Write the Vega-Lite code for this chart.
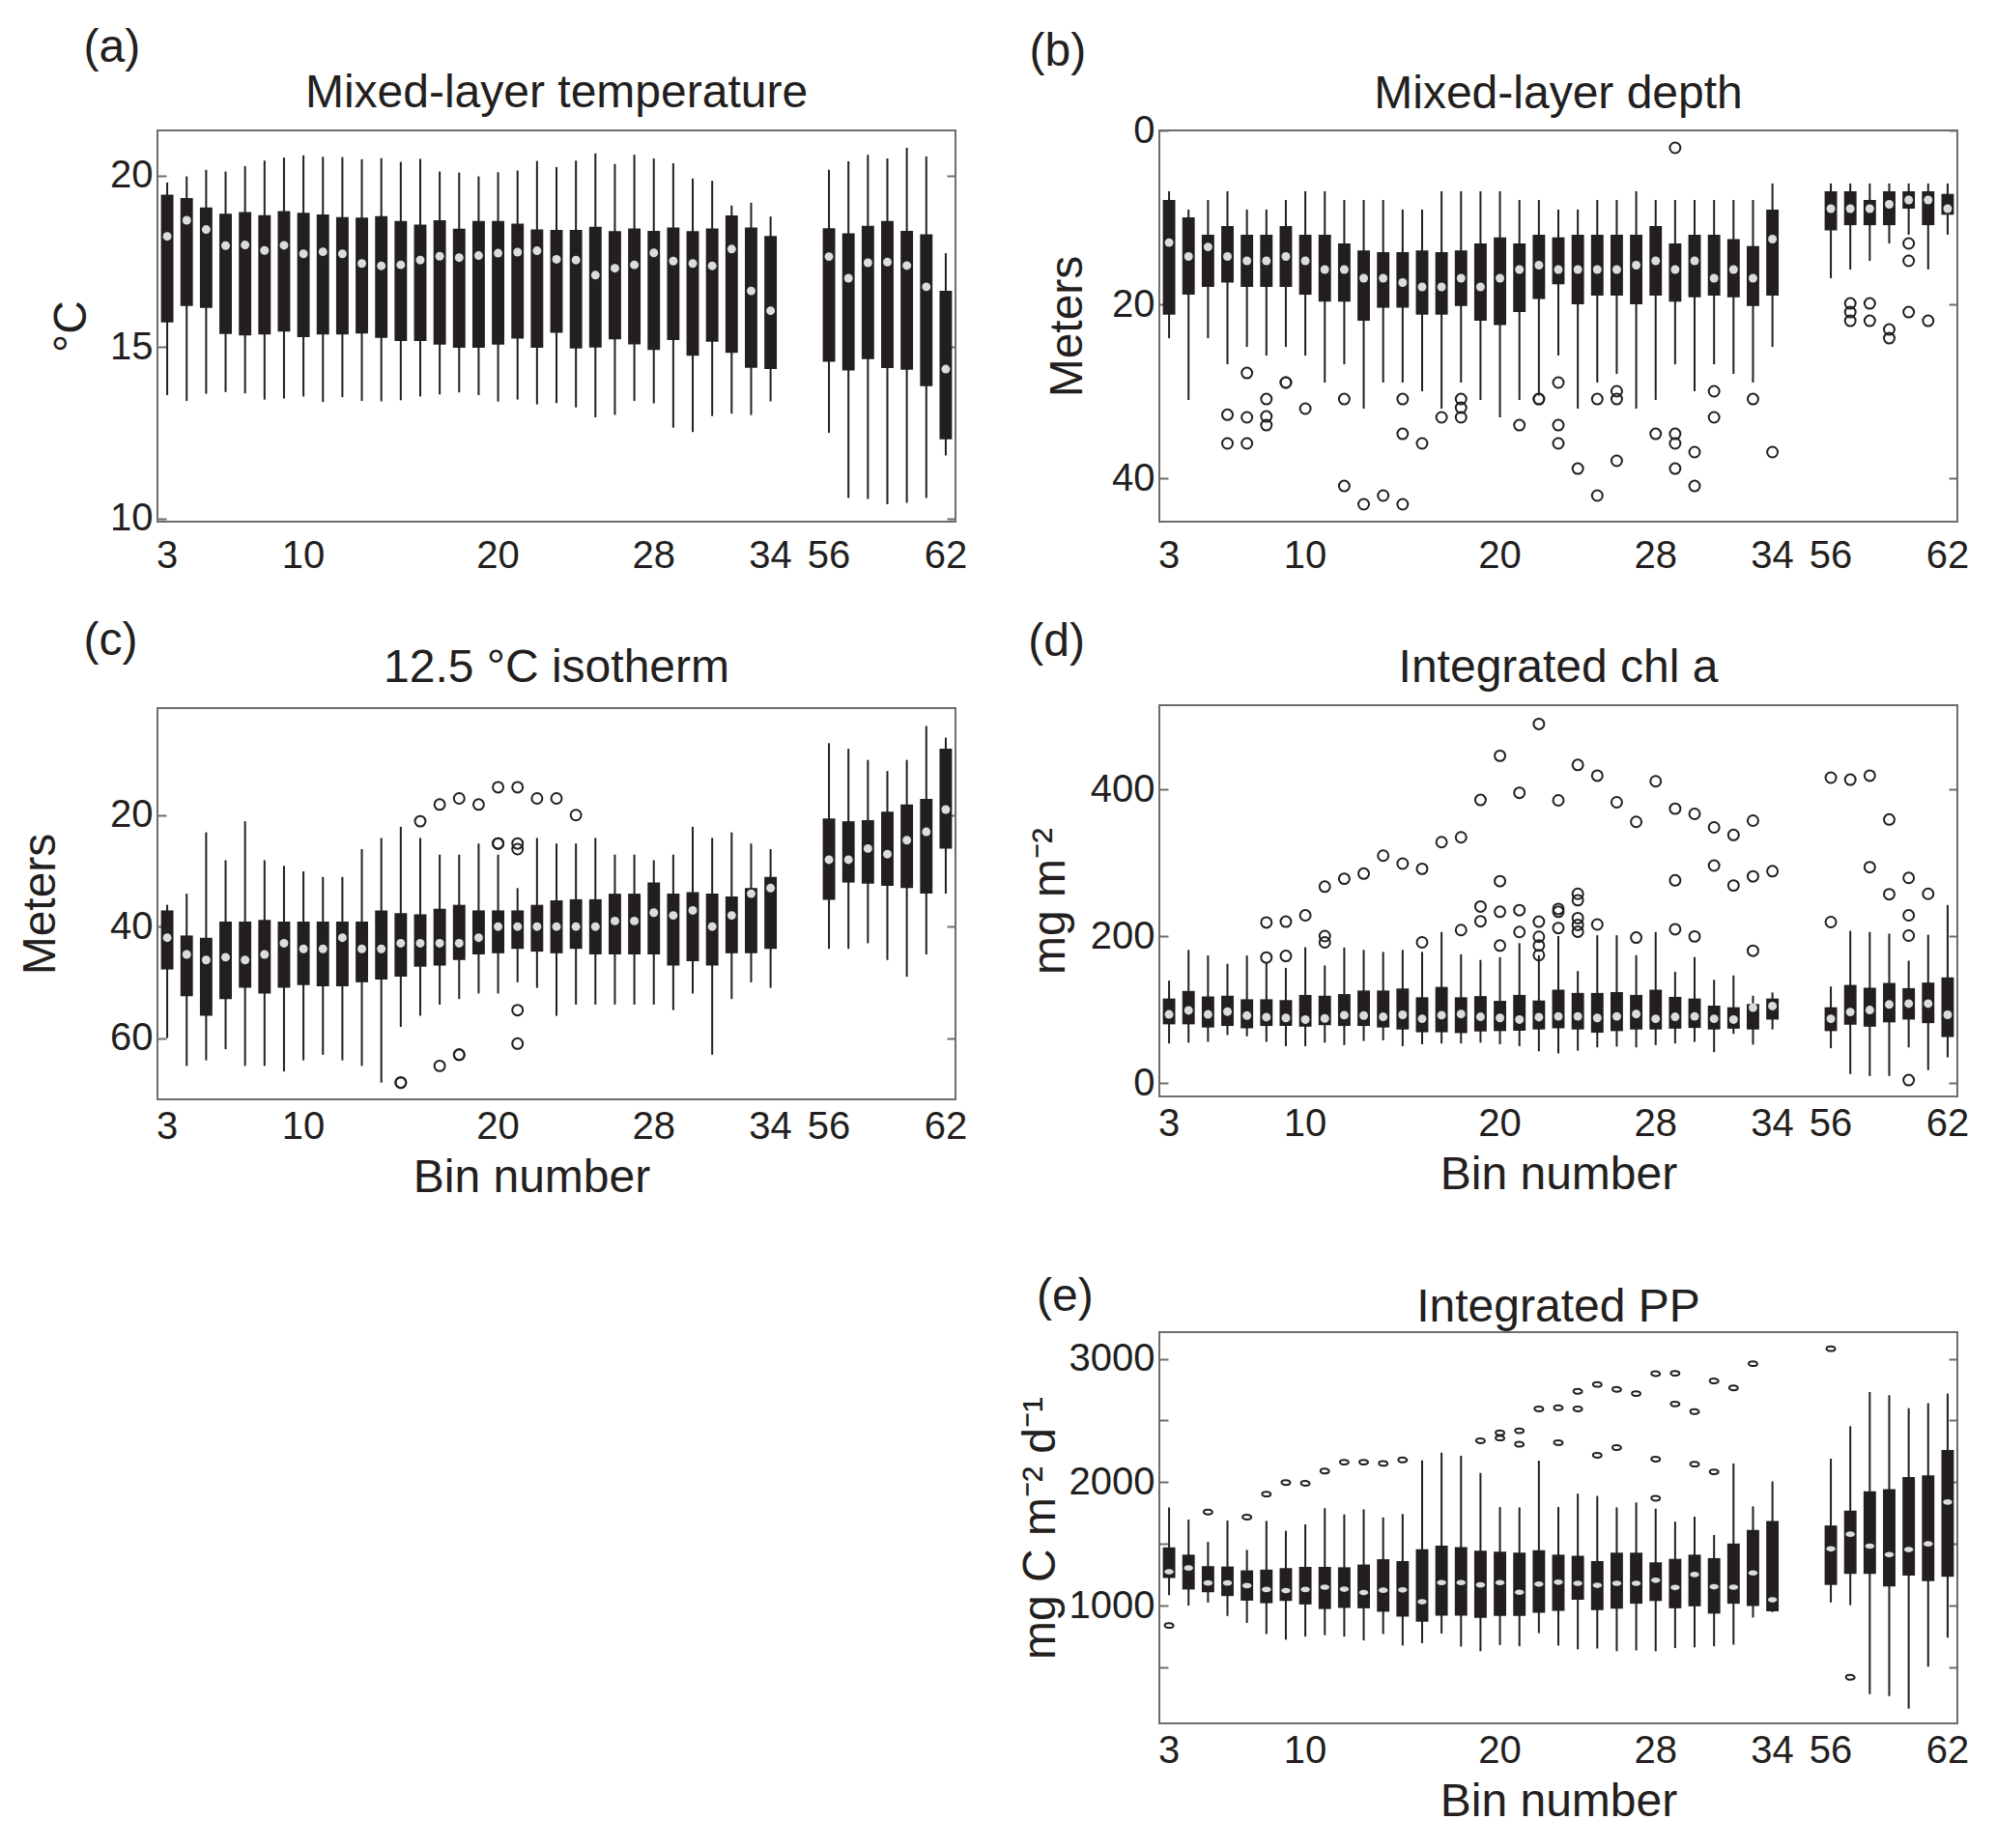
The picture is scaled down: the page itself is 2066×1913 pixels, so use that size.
{
  "$schema": "https://vega.github.io/schema/vega-lite/v6.json",
  "background": "white",
  "padding": {"left": 17, "top": 26, "right": 5, "bottom": 5},
  "config": {
    "font": "Liberation Sans",
    "view": {"stroke": "#6d6d6d", "strokeWidth": 2},
    "axis": {"labelFont": "Liberation Sans", "titleFont": "Liberation Sans", "labelFontSize": 40, "titleFontSize": 48, "titleFontWeight": "normal", "labelColor": "#231f20", "titleColor": "#231f20", "domain": false, "grid": false, "tickColor": "#6d6d6d", "tickWidth": 2},
    "axisX": {"ticks": false, "labelPadding": 15, "labelAngle": 0, "titlePadding": 9, "labelFlush": false, "labelOverlap": false},
    "axisY": {"tickSize": -9, "labelPadding": 14, "labelFlush": false, "labelOverlap": false},
    "title": {"font": "Liberation Sans", "fontSize": 48, "fontWeight": "normal", "color": "#231f20"}
  },
  "datasets": {
    "a_box": [
      {"bin":3,"lo":13.60,"q1":15.72,"med":18.23,"q3":19.45,"hi":19.80},
      {"bin":4,"lo":13.43,"q1":16.20,"med":18.70,"q3":19.35,"hi":19.98},
      {"bin":5,"lo":13.64,"q1":16.14,"med":18.43,"q3":19.07,"hi":20.17},
      {"bin":6,"lo":13.69,"q1":15.38,"med":17.96,"q3":18.89,"hi":20.12},
      {"bin":7,"lo":13.65,"q1":15.34,"med":17.98,"q3":18.94,"hi":20.28},
      {"bin":8,"lo":13.47,"q1":15.37,"med":17.82,"q3":18.85,"hi":20.44},
      {"bin":9,"lo":13.50,"q1":15.45,"med":17.97,"q3":18.97,"hi":20.53},
      {"bin":10,"lo":13.56,"q1":15.29,"med":17.72,"q3":18.92,"hi":20.59},
      {"bin":11,"lo":13.40,"q1":15.37,"med":17.78,"q3":18.87,"hi":20.55},
      {"bin":12,"lo":13.54,"q1":15.37,"med":17.72,"q3":18.79,"hi":20.54},
      {"bin":13,"lo":13.43,"q1":15.40,"med":17.44,"q3":18.78,"hi":20.48},
      {"bin":14,"lo":13.42,"q1":15.27,"med":17.37,"q3":18.82,"hi":20.51},
      {"bin":15,"lo":13.45,"q1":15.18,"med":17.40,"q3":18.68,"hi":20.40},
      {"bin":16,"lo":13.56,"q1":15.18,"med":17.54,"q3":18.57,"hi":20.49},
      {"bin":17,"lo":13.62,"q1":15.07,"med":17.65,"q3":18.70,"hi":20.12},
      {"bin":18,"lo":13.68,"q1":14.98,"med":17.61,"q3":18.45,"hi":20.09},
      {"bin":19,"lo":13.60,"q1":14.98,"med":17.67,"q3":18.68,"hi":19.98},
      {"bin":20,"lo":13.41,"q1":15.07,"med":17.74,"q3":18.68,"hi":20.10},
      {"bin":21,"lo":13.47,"q1":15.25,"med":17.77,"q3":18.60,"hi":20.15},
      {"bin":22,"lo":13.33,"q1":14.98,"med":17.81,"q3":18.43,"hi":20.43},
      {"bin":23,"lo":13.37,"q1":15.42,"med":17.56,"q3":18.42,"hi":20.25},
      {"bin":24,"lo":13.24,"q1":14.96,"med":17.54,"q3":18.42,"hi":20.44},
      {"bin":25,"lo":12.95,"q1":14.99,"med":17.10,"q3":18.51,"hi":20.65},
      {"bin":26,"lo":13.02,"q1":15.23,"med":17.30,"q3":18.38,"hi":20.34},
      {"bin":27,"lo":13.43,"q1":15.08,"med":17.40,"q3":18.46,"hi":20.61},
      {"bin":28,"lo":13.36,"q1":14.92,"med":17.75,"q3":18.39,"hi":20.50},
      {"bin":29,"lo":12.65,"q1":15.21,"med":17.51,"q3":18.49,"hi":20.36},
      {"bin":30,"lo":12.52,"q1":14.75,"med":17.44,"q3":18.38,"hi":19.92},
      {"bin":31,"lo":12.99,"q1":15.16,"med":17.37,"q3":18.46,"hi":19.85},
      {"bin":32,"lo":13.06,"q1":14.83,"med":17.86,"q3":18.84,"hi":19.13},
      {"bin":33,"lo":13.02,"q1":14.40,"med":16.64,"q3":18.49,"hi":19.21},
      {"bin":34,"lo":13.42,"q1":14.36,"med":16.06,"q3":18.24,"hi":18.81},
      {"bin":56,"lo":12.50,"q1":14.57,"med":17.64,"q3":18.47,"hi":20.17},
      {"bin":57,"lo":10.60,"q1":14.32,"med":17.01,"q3":18.32,"hi":20.42},
      {"bin":58,"lo":10.57,"q1":14.65,"med":17.46,"q3":18.54,"hi":20.61},
      {"bin":59,"lo":10.42,"q1":14.39,"med":17.48,"q3":18.68,"hi":20.50},
      {"bin":60,"lo":10.46,"q1":14.34,"med":17.38,"q3":18.39,"hi":20.81},
      {"bin":61,"lo":10.60,"q1":13.86,"med":16.76,"q3":18.29,"hi":20.56},
      {"bin":62,"lo":11.84,"q1":12.31,"med":14.36,"q3":16.64,"hi":17.74}
    ],
    "b_box": [
      {"bin":3,"lo":7.0,"q1":8.0,"med":12.9,"q3":21.2,"hi":23.9},
      {"bin":4,"lo":9.1,"q1":10.0,"med":14.5,"q3":18.9,"hi":31.0},
      {"bin":5,"lo":8.0,"q1":12.0,"med":13.4,"q3":18.0,"hi":23.9},
      {"bin":6,"lo":7.0,"q1":11.0,"med":14.5,"q3":17.5,"hi":26.9},
      {"bin":7,"lo":9.1,"q1":12.0,"med":15.0,"q3":18.0,"hi":24.9},
      {"bin":8,"lo":9.1,"q1":12.0,"med":15.0,"q3":18.0,"hi":25.9},
      {"bin":9,"lo":8.0,"q1":11.0,"med":14.5,"q3":18.0,"hi":24.9},
      {"bin":10,"lo":7.0,"q1":12.0,"med":15.0,"q3":18.9,"hi":25.9},
      {"bin":11,"lo":7.0,"q1":12.0,"med":16.0,"q3":19.7,"hi":29.0},
      {"bin":12,"lo":8.0,"q1":13.0,"med":16.0,"q3":19.7,"hi":26.9},
      {"bin":13,"lo":8.0,"q1":13.8,"med":17.0,"q3":21.9,"hi":32.0},
      {"bin":14,"lo":8.0,"q1":14.0,"med":17.0,"q3":20.4,"hi":29.0},
      {"bin":15,"lo":9.1,"q1":14.0,"med":17.5,"q3":20.4,"hi":29.0},
      {"bin":16,"lo":9.1,"q1":13.8,"med":18.0,"q3":21.2,"hi":30.0},
      {"bin":17,"lo":7.0,"q1":14.0,"med":18.0,"q3":21.2,"hi":32.0},
      {"bin":18,"lo":7.0,"q1":13.8,"med":17.0,"q3":20.2,"hi":29.0},
      {"bin":19,"lo":7.0,"q1":13.0,"med":18.0,"q3":21.9,"hi":31.0},
      {"bin":20,"lo":7.0,"q1":12.3,"med":17.0,"q3":22.4,"hi":33.0},
      {"bin":21,"lo":8.0,"q1":13.0,"med":16.0,"q3":20.9,"hi":31.0},
      {"bin":22,"lo":8.0,"q1":12.0,"med":15.5,"q3":19.4,"hi":30.5},
      {"bin":23,"lo":9.1,"q1":12.3,"med":16.0,"q3":17.7,"hi":25.9},
      {"bin":24,"lo":9.1,"q1":12.0,"med":16.0,"q3":20.0,"hi":32.0},
      {"bin":25,"lo":8.0,"q1":12.0,"med":16.0,"q3":19.0,"hi":29.0},
      {"bin":26,"lo":8.0,"q1":12.0,"med":16.0,"q3":19.0,"hi":28.0},
      {"bin":27,"lo":7.0,"q1":12.0,"med":15.5,"q3":20.0,"hi":32.0},
      {"bin":28,"lo":8.0,"q1":11.0,"med":15.0,"q3":19.0,"hi":31.0},
      {"bin":29,"lo":8.0,"q1":13.0,"med":16.0,"q3":19.7,"hi":26.9},
      {"bin":30,"lo":8.0,"q1":12.0,"med":15.0,"q3":19.2,"hi":30.0},
      {"bin":31,"lo":8.0,"q1":12.0,"med":17.0,"q3":19.0,"hi":26.9},
      {"bin":32,"lo":8.0,"q1":12.5,"med":16.0,"q3":19.2,"hi":28.0},
      {"bin":33,"lo":8.0,"q1":13.3,"med":17.0,"q3":20.2,"hi":29.0},
      {"bin":34,"lo":6.1,"q1":9.1,"med":12.5,"q3":19.0,"hi":24.9},
      {"bin":56,"lo":6.1,"q1":7.0,"med":9.0,"q3":11.5,"hi":17.0},
      {"bin":57,"lo":6.1,"q1":7.0,"med":9.0,"q3":10.9,"hi":16.0},
      {"bin":58,"lo":6.1,"q1":8.0,"med":9.0,"q3":10.9,"hi":15.0},
      {"bin":59,"lo":6.1,"q1":7.0,"med":8.5,"q3":10.9,"hi":13.0},
      {"bin":60,"lo":6.1,"q1":7.0,"med":8.0,"q3":9.0,"hi":12.0},
      {"bin":61,"lo":6.1,"q1":7.0,"med":8.0,"q3":10.9,"hi":16.0},
      {"bin":62,"lo":6.1,"q1":7.3,"med":9.0,"q3":9.7,"hi":12.0}
    ],
    "b_out": [
      {"bin":6,"v":32.7},{"bin":6,"v":36.0},
      {"bin":7,"v":27.9},{"bin":7,"v":33.0},{"bin":7,"v":36.0},
      {"bin":8,"v":30.9},{"bin":8,"v":32.9},{"bin":8,"v":33.9},
      {"bin":9,"v":29.0},{"bin":9,"v":29.0},
      {"bin":10,"v":32.0},
      {"bin":12,"v":30.9},{"bin":12,"v":40.9},
      {"bin":13,"v":43.0},
      {"bin":14,"v":42.0},
      {"bin":15,"v":30.9},{"bin":15,"v":34.9},{"bin":15,"v":43.0},
      {"bin":16,"v":36.0},
      {"bin":17,"v":33.0},
      {"bin":18,"v":30.9},{"bin":18,"v":31.9},{"bin":18,"v":33.0},
      {"bin":21,"v":33.9},
      {"bin":22,"v":30.9},{"bin":22,"v":30.9},
      {"bin":23,"v":29.0},{"bin":23,"v":33.9},{"bin":23,"v":36.0},
      {"bin":24,"v":38.9},
      {"bin":25,"v":30.9},{"bin":25,"v":42.0},
      {"bin":26,"v":30.0},{"bin":26,"v":30.9},{"bin":26,"v":38.0},
      {"bin":28,"v":34.9},
      {"bin":29,"v":34.9},{"bin":29,"v":36.0},{"bin":29,"v":38.9},{"bin":29,"v":2.0},
      {"bin":30,"v":37.0},{"bin":30,"v":40.9},
      {"bin":31,"v":30.0},{"bin":31,"v":33.0},
      {"bin":33,"v":30.9},
      {"bin":34,"v":37.0},
      {"bin":57,"v":19.9},{"bin":57,"v":20.9},{"bin":57,"v":21.9},
      {"bin":58,"v":19.9},{"bin":58,"v":21.9},
      {"bin":59,"v":22.9},{"bin":59,"v":23.9},
      {"bin":60,"v":13.0},{"bin":60,"v":15.0},{"bin":60,"v":20.9},
      {"bin":61,"v":21.9}
    ],
    "c_box": [
      {"bin":3,"lo":36.1,"q1":37.1,"med":42.0,"q3":47.7,"hi":60.0},
      {"bin":4,"lo":34.1,"q1":41.6,"med":45.0,"q3":52.5,"hi":65.0},
      {"bin":5,"lo":23.1,"q1":42.0,"med":46.0,"q3":56.0,"hi":64.0},
      {"bin":6,"lo":28.1,"q1":39.1,"med":45.5,"q3":53.0,"hi":62.0},
      {"bin":7,"lo":21.1,"q1":39.1,"med":46.0,"q3":51.0,"hi":65.0},
      {"bin":8,"lo":28.1,"q1":38.8,"med":45.0,"q3":52.0,"hi":65.0},
      {"bin":9,"lo":29.1,"q1":39.1,"med":43.0,"q3":51.0,"hi":66.0},
      {"bin":10,"lo":30.1,"q1":39.1,"med":44.0,"q3":50.5,"hi":64.0},
      {"bin":11,"lo":31.1,"q1":39.1,"med":44.0,"q3":50.7,"hi":63.0},
      {"bin":12,"lo":31.1,"q1":39.1,"med":42.0,"q3":50.7,"hi":64.0},
      {"bin":13,"lo":26.1,"q1":39.1,"med":44.0,"q3":50.0,"hi":65.0},
      {"bin":14,"lo":24.1,"q1":37.1,"med":44.0,"q3":49.5,"hi":68.0},
      {"bin":15,"lo":22.1,"q1":37.6,"med":43.0,"q3":49.0,"hi":58.0},
      {"bin":16,"lo":24.1,"q1":37.8,"med":43.0,"q3":47.2,"hi":56.0},
      {"bin":17,"lo":27.1,"q1":36.8,"med":43.0,"q3":47.0,"hi":54.0},
      {"bin":18,"lo":27.1,"q1":36.1,"med":43.0,"q3":46.0,"hi":53.0},
      {"bin":19,"lo":25.1,"q1":37.1,"med":42.0,"q3":45.0,"hi":52.0},
      {"bin":20,"lo":27.1,"q1":37.1,"med":40.0,"q3":44.8,"hi":52.0},
      {"bin":21,"lo":33.1,"q1":37.1,"med":40.0,"q3":44.0,"hi":50.0},
      {"bin":22,"lo":24.1,"q1":36.1,"med":40.0,"q3":44.5,"hi":51.0},
      {"bin":23,"lo":25.1,"q1":35.3,"med":40.0,"q3":44.8,"hi":56.0},
      {"bin":24,"lo":25.1,"q1":35.1,"med":40.0,"q3":44.0,"hi":54.0},
      {"bin":25,"lo":24.1,"q1":35.1,"med":40.0,"q3":45.0,"hi":54.0},
      {"bin":26,"lo":27.1,"q1":34.1,"med":39.0,"q3":45.0,"hi":54.0},
      {"bin":27,"lo":27.1,"q1":34.1,"med":39.0,"q3":45.0,"hi":54.0},
      {"bin":28,"lo":28.1,"q1":32.1,"med":37.5,"q3":45.0,"hi":54.0},
      {"bin":29,"lo":27.1,"q1":34.1,"med":38.0,"q3":47.0,"hi":55.0},
      {"bin":30,"lo":22.1,"q1":33.8,"med":37.1,"q3":46.2,"hi":52.0},
      {"bin":31,"lo":24.1,"q1":34.1,"med":40.0,"q3":47.0,"hi":63.0},
      {"bin":32,"lo":23.1,"q1":34.6,"med":38.0,"q3":44.8,"hi":53.0},
      {"bin":33,"lo":25.1,"q1":33.1,"med":34.1,"q3":44.8,"hi":50.0},
      {"bin":34,"lo":26.1,"q1":31.1,"med":33.1,"q3":44.0,"hi":51.0},
      {"bin":56,"lo":7.1,"q1":20.6,"med":28.0,"q3":35.2,"hi":44.0},
      {"bin":57,"lo":8.1,"q1":21.1,"med":28.0,"q3":32.1,"hi":44.0},
      {"bin":58,"lo":10.1,"q1":20.9,"med":26.0,"q3":32.3,"hi":43.0},
      {"bin":59,"lo":12.1,"q1":19.4,"med":27.0,"q3":32.7,"hi":46.0},
      {"bin":60,"lo":10.1,"q1":18.1,"med":24.5,"q3":33.1,"hi":49.0},
      {"bin":61,"lo":4.0,"q1":17.1,"med":23.0,"q3":34.1,"hi":45.0},
      {"bin":62,"lo":6.1,"q1":8.1,"med":19.0,"q3":26.0,"hi":34.1}
    ],
    "c_out": [
      {"bin":15,"v":68.0},{"bin":15,"v":68.0},
      {"bin":16,"v":21.1},
      {"bin":17,"v":18.1},{"bin":17,"v":65.0},
      {"bin":18,"v":17.0},{"bin":18,"v":63.0},{"bin":18,"v":63.0},
      {"bin":19,"v":18.1},
      {"bin":20,"v":15.0},{"bin":20,"v":25.1},{"bin":20,"v":25.1},
      {"bin":21,"v":15.0},{"bin":21,"v":25.1},{"bin":21,"v":26.1},{"bin":21,"v":55.0},{"bin":21,"v":61.0},
      {"bin":22,"v":17.0},
      {"bin":23,"v":17.0},
      {"bin":24,"v":20.0}
    ],
    "d_box": [
      {"bin":3,"lo":54.2,"q1":80.2,"med":93.8,"q3":115.4,"hi":139.8},
      {"bin":4,"lo":55.3,"q1":80.2,"med":99.2,"q3":125.7,"hi":181.6},
      {"bin":5,"lo":56.4,"q1":75.9,"med":93.8,"q3":118.2,"hi":174.0},
      {"bin":6,"lo":65.6,"q1":78.0,"med":97.6,"q3":119.2,"hi":162.6},
      {"bin":7,"lo":64.0,"q1":74.8,"med":92.1,"q3":114.4,"hi":174.0},
      {"bin":8,"lo":56.4,"q1":78.0,"med":90.0,"q3":114.4,"hi":163.7},
      {"bin":9,"lo":50.4,"q1":78.0,"med":88.9,"q3":113.3,"hi":157.2},
      {"bin":10,"lo":50.4,"q1":77.0,"med":86.7,"q3":120.3,"hi":185.4},
      {"bin":11,"lo":55.3,"q1":79.1,"med":88.3,"q3":119.2,"hi":160.4},
      {"bin":12,"lo":52.0,"q1":78.0,"med":92.7,"q3":121.4,"hi":184.8},
      {"bin":13,"lo":57.5,"q1":78.0,"med":92.1,"q3":126.3,"hi":181.6},
      {"bin":14,"lo":58.5,"q1":75.9,"med":90.5,"q3":126.3,"hi":178.9},
      {"bin":15,"lo":50.4,"q1":73.2,"med":93.2,"q3":129.0,"hi":181.6},
      {"bin":16,"lo":53.1,"q1":69.4,"med":87.8,"q3":117.1,"hi":178.9},
      {"bin":17,"lo":54.2,"q1":69.4,"med":92.7,"q3":131.2,"hi":206.0},
      {"bin":18,"lo":54.2,"q1":68.3,"med":94.3,"q3":117.1,"hi":175.6},
      {"bin":19,"lo":55.3,"q1":70.5,"med":90.5,"q3":118.7,"hi":168.0},
      {"bin":20,"lo":53.1,"q1":71.0,"med":88.9,"q3":112.2,"hi":171.8},
      {"bin":21,"lo":50.4,"q1":71.5,"med":86.7,"q3":120.3,"hi":190.8},
      {"bin":22,"lo":43.4,"q1":73.2,"med":90.0,"q3":112.7,"hi":174.5},
      {"bin":23,"lo":40.7,"q1":74.8,"med":91.1,"q3":127.4,"hi":200.5},
      {"bin":24,"lo":44.4,"q1":73.2,"med":91.1,"q3":123.0,"hi":152.8},
      {"bin":25,"lo":48.8,"q1":68.8,"med":88.9,"q3":123.0,"hi":201.6},
      {"bin":26,"lo":49.9,"q1":71.0,"med":91.1,"q3":124.1,"hi":201.6},
      {"bin":27,"lo":48.8,"q1":73.2,"med":94.3,"q3":120.3,"hi":174.5},
      {"bin":28,"lo":52.0,"q1":73.2,"med":87.8,"q3":127.4,"hi":206.0},
      {"bin":29,"lo":54.2,"q1":74.3,"med":90.5,"q3":117.6,"hi":151.8},
      {"bin":30,"lo":56.4,"q1":75.3,"med":91.1,"q3":115.4,"hi":171.8},
      {"bin":31,"lo":42.3,"q1":73.2,"med":87.8,"q3":105.7,"hi":140.9},
      {"bin":32,"lo":67.2,"q1":74.3,"med":86.7,"q3":103.5,"hi":146.9},
      {"bin":33,"lo":52.6,"q1":73.2,"med":103.0,"q3":107.9,"hi":119.2},
      {"bin":34,"lo":73.2,"q1":86.7,"med":105.1,"q3":115.4,"hi":123.6},
      {"bin":56,"lo":47.7,"q1":71.0,"med":87.8,"q3":103.5,"hi":131.7},
      {"bin":57,"lo":12.5,"q1":79.7,"med":97.0,"q3":133.9,"hi":207.6},
      {"bin":58,"lo":9.8,"q1":77.0,"med":99.7,"q3":130.1,"hi":206.0},
      {"bin":59,"lo":9.8,"q1":82.9,"med":107.3,"q3":136.6,"hi":203.8},
      {"bin":60,"lo":48.8,"q1":86.7,"med":108.4,"q3":129.5,"hi":166.9},
      {"bin":61,"lo":17.9,"q1":81.8,"med":108.4,"q3":137.1,"hi":202.2},
      {"bin":62,"lo":35.2,"q1":62.9,"med":93.2,"q3":144.2,"hi":242.8}
    ],
    "d_out": [
      {"bin":8,"v":219.0},{"bin":8,"v":171.3},
      {"bin":9,"v":220.1},{"bin":9,"v":173.4},
      {"bin":10,"v":228.7},
      {"bin":11,"v":267.8},{"bin":11,"v":200.5},{"bin":11,"v":191.9},
      {"bin":12,"v":278.6},
      {"bin":13,"v":285.6},
      {"bin":14,"v":310.0},
      {"bin":15,"v":299.2},
      {"bin":16,"v":292.1},{"bin":16,"v":191.9},
      {"bin":17,"v":328.5},
      {"bin":18,"v":335.0},{"bin":18,"v":208.7},
      {"bin":19,"v":385.9},{"bin":19,"v":240.7},{"bin":19,"v":220.6},
      {"bin":20,"v":446.1},{"bin":20,"v":275.3},{"bin":20,"v":233.6},{"bin":20,"v":187.5},
      {"bin":21,"v":395.7},{"bin":21,"v":235.8},{"bin":21,"v":206.0},
      {"bin":22,"v":489.4},{"bin":22,"v":220.1},{"bin":22,"v":199.5},{"bin":22,"v":187.5},{"bin":22,"v":174.5},
      {"bin":23,"v":385.4},{"bin":23,"v":233.6},{"bin":23,"v":237.4},{"bin":23,"v":211.4},
      {"bin":24,"v":433.6},{"bin":24,"v":258.0},{"bin":24,"v":249.3},{"bin":24,"v":224.9},{"bin":24,"v":215.7},{"bin":24,"v":206.5},
      {"bin":25,"v":419.0},{"bin":25,"v":216.3},
      {"bin":26,"v":382.7},
      {"bin":27,"v":356.1},{"bin":27,"v":198.4},
      {"bin":28,"v":411.4},
      {"bin":29,"v":276.4},{"bin":29,"v":209.8},{"bin":29,"v":374.0},
      {"bin":30,"v":366.9},{"bin":30,"v":200.0},
      {"bin":31,"v":296.5},{"bin":31,"v":348.5},
      {"bin":32,"v":338.2},{"bin":32,"v":269.4},
      {"bin":33,"v":357.7},{"bin":33,"v":281.8},{"bin":33,"v":180.5},
      {"bin":34,"v":288.9},
      {"bin":56,"v":416.3},{"bin":56,"v":219.5},
      {"bin":57,"v":413.6},
      {"bin":58,"v":419.0},{"bin":58,"v":294.3},
      {"bin":59,"v":359.3},{"bin":59,"v":257.5},
      {"bin":60,"v":279.7},{"bin":60,"v":228.7},{"bin":60,"v":201.1},{"bin":60,"v":4.3},
      {"bin":61,"v":258.0}
    ],
    "e_box": [
      {"bin":3,"lo":1087,"q1":1226,"med":1276,"q3":1474,"hi":1797},
      {"bin":4,"lo":1003,"q1":1133,"med":1307,"q3":1415,"hi":1698},
      {"bin":5,"lo":1028,"q1":1111,"med":1186,"q3":1322,"hi":1518},
      {"bin":6,"lo":919,"q1":1080,"med":1186,"q3":1319,"hi":1691},
      {"bin":7,"lo":863,"q1":1043,"med":1164,"q3":1288,"hi":1453},
      {"bin":8,"lo":773,"q1":1022,"med":1133,"q3":1294,"hi":1688},
      {"bin":9,"lo":727,"q1":1040,"med":1124,"q3":1307,"hi":1608},
      {"bin":10,"lo":752,"q1":1012,"med":1133,"q3":1316,"hi":1660},
      {"bin":11,"lo":764,"q1":975,"med":1152,"q3":1316,"hi":1791},
      {"bin":12,"lo":752,"q1":984,"med":1136,"q3":1313,"hi":1741},
      {"bin":13,"lo":721,"q1":981,"med":1108,"q3":1335,"hi":1781},
      {"bin":14,"lo":773,"q1":953,"med":1127,"q3":1378,"hi":1716},
      {"bin":15,"lo":680,"q1":913,"med":1130,"q3":1363,"hi":1744},
      {"bin":16,"lo":699,"q1":873,"med":1034,"q3":1459,"hi":2178},
      {"bin":17,"lo":777,"q1":922,"med":1189,"q3":1487,"hi":2240},
      {"bin":18,"lo":671,"q1":922,"med":1189,"q3":1477,"hi":2215},
      {"bin":19,"lo":634,"q1":904,"med":1170,"q3":1446,"hi":2076},
      {"bin":20,"lo":684,"q1":919,"med":1189,"q3":1440,"hi":1800},
      {"bin":21,"lo":674,"q1":919,"med":1111,"q3":1431,"hi":1797},
      {"bin":22,"lo":780,"q1":944,"med":1177,"q3":1450,"hi":2175},
      {"bin":23,"lo":680,"q1":960,"med":1192,"q3":1415,"hi":1800},
      {"bin":24,"lo":649,"q1":1050,"med":1183,"q3":1406,"hi":1908},
      {"bin":25,"lo":656,"q1":966,"med":1167,"q3":1363,"hi":1890},
      {"bin":26,"lo":634,"q1":978,"med":1183,"q3":1431,"hi":1797},
      {"bin":27,"lo":640,"q1":1018,"med":1183,"q3":1431,"hi":1837},
      {"bin":28,"lo":634,"q1":1040,"med":1208,"q3":1353,"hi":1787},
      {"bin":29,"lo":659,"q1":981,"med":1149,"q3":1381,"hi":1682},
      {"bin":30,"lo":665,"q1":997,"med":1254,"q3":1415,"hi":1722},
      {"bin":31,"lo":674,"q1":938,"med":1155,"q3":1387,"hi":1574},
      {"bin":32,"lo":687,"q1":1018,"med":1152,"q3":1505,"hi":2153},
      {"bin":33,"lo":907,"q1":1000,"med":1267,"q3":1614,"hi":1806},
      {"bin":34,"lo":950,"q1":956,"med":1050,"q3":1688,"hi":2008},
      {"bin":56,"lo":1028,"q1":1170,"med":1462,"q3":1651,"hi":2191},
      {"bin":57,"lo":1006,"q1":1260,"med":1580,"q3":1772,"hi":2454},
      {"bin":58,"lo":287,"q1":1260,"med":1484,"q3":1927,"hi":2730},
      {"bin":59,"lo":271,"q1":1158,"med":1415,"q3":1946,"hi":2705},
      {"bin":60,"lo":169,"q1":1245,"med":1456,"q3":2042,"hi":2600},
      {"bin":61,"lo":510,"q1":1201,"med":1502,"q3":2057,"hi":2640},
      {"bin":62,"lo":743,"q1":1236,"med":1840,"q3":2262,"hi":2718}
    ],
    "e_out": [
      {"bin":3,"v":842},{"bin":5,"v":1760},{"bin":7,"v":1719},{"bin":8,"v":1905},
      {"bin":9,"v":1998},{"bin":10,"v":1992},{"bin":11,"v":2091},{"bin":12,"v":2163},
      {"bin":13,"v":2163},{"bin":14,"v":2153},{"bin":15,"v":2181},{"bin":19,"v":2336},
      {"bin":20,"v":2401},{"bin":20,"v":2358},{"bin":21,"v":2417},{"bin":21,"v":2308},
      {"bin":22,"v":2594},{"bin":23,"v":2603},{"bin":23,"v":2321},{"bin":24,"v":2594},
      {"bin":24,"v":2736},{"bin":25,"v":2792},{"bin":25,"v":2219},{"bin":26,"v":2752},
      {"bin":26,"v":2281},{"bin":27,"v":2718},{"bin":28,"v":2879},{"bin":28,"v":2188},
      {"bin":28,"v":1871},{"bin":29,"v":2882},{"bin":29,"v":2634},{"bin":30,"v":2572},
      {"bin":30,"v":2147},{"bin":31,"v":2820},{"bin":31,"v":2085},{"bin":32,"v":2764},
      {"bin":33,"v":2960},{"bin":56,"v":3081},{"bin":57,"v":423}
    ]
  },
  "hconcat": [
    {
      "spacing": 44,
      "vconcat": [
        {
          "title": {"text": "(a)", "anchor": "start", "frame": "bounds", "dx": 37, "offset": -40, "baseline": "alphabetic"},
          "vconcat": [
            {
              "width": 826, "height": 405,
              "title": {"text": "Mixed-layer temperature", "offset": -24, "baseline": "alphabetic"},
              "data": {"name": "a_box"},
              "encoding": {"x": {"field": "bin", "type": "ordinal", "scale": {"type": "band", "domain": [3,4,5,6,7,8,9,10,11,12,13,14,15,16,17,18,19,20,21,22,23,24,25,26,27,28,29,30,31,32,33,34,35,36,56,57,58,59,60,61,62], "paddingInner": 0, "paddingOuter": 0}, "axis": {"values": [3,10,20,28,34,56,62], "title": null}}},
              "layer": [
                {"mark": {"type": "rule", "color": "#231f20", "strokeWidth": 2}, "encoding": {"y": {"field": "lo", "type": "quantitative", "scale": {"domain": [9.91, 21.32], "nice": false, "zero": false}, "axis": {"values": [10,15,20], "title": "°C", "titlePadding": 15}}, "y2": {"field": "hi"}}},
                {"mark": {"type": "bar", "color": "#231f20", "width": {"band": 0.64}}, "encoding": {"y": {"field": "q1", "type": "quantitative", "axis": null}, "y2": {"field": "q3"}}},
                {"mark": {"type": "point", "filled": true, "color": "#dcdcdc", "size": 80, "opacity": 1}, "encoding": {"y": {"field": "med", "type": "quantitative", "axis": null}}},
                {"mark": {"type": "rule", "opacity": 0}, "encoding": {"y": {"field": "lo", "type": "quantitative", "axis": {"orient": "right", "values": [10,15,20], "labels": false, "title": null}}}}
              ],
              "resolve": {"axis": {"y": "independent"}}
            }
          ]
        },
        {
          "title": {"text": "(c)", "anchor": "start", "frame": "bounds", "dx": 69, "offset": -59, "baseline": "alphabetic"},
          "vconcat": [
            {
              "width": 826, "height": 405,
              "title": {"text": "12.5 °C isotherm", "offset": -21, "baseline": "alphabetic"},
              "data": {"name": "c_box"},
              "encoding": {"x": {"field": "bin", "type": "ordinal", "scale": {"type": "band", "domain": [3,4,5,6,7,8,9,10,11,12,13,14,15,16,17,18,19,20,21,22,23,24,25,26,27,28,29,30,31,32,33,34,35,36,56,57,58,59,60,61,62], "paddingInner": 0, "paddingOuter": 0}, "axis": {"values": [3,10,20,28,34,56,62], "title": "Bin number", "titleX": 387, "labelPadding": 8}}},
              "layer": [
                {"mark": {"type": "rule", "color": "#231f20", "strokeWidth": 2}, "encoding": {"y": {"field": "lo", "type": "quantitative", "scale": {"domain": [0.8, 71], "nice": false, "zero": false, "reverse": true}, "axis": {"values": [20,40,60], "title": "Meters", "titlePadding": 47}}, "y2": {"field": "hi"}}},
                {"mark": {"type": "bar", "color": "#231f20", "width": {"band": 0.64}}, "encoding": {"y": {"field": "q1", "type": "quantitative", "axis": null}, "y2": {"field": "q3"}}},
                {"mark": {"type": "point", "filled": true, "color": "#dcdcdc", "size": 80, "opacity": 1}, "encoding": {"y": {"field": "med", "type": "quantitative", "axis": null}}},
                {"data": {"name": "c_out"}, "mark": {"type": "point", "shape": "circle", "filled": false, "color": "#231f20", "strokeWidth": 2, "size": 120, "opacity": 1}, "encoding": {"y": {"field": "v", "type": "quantitative", "axis": null}}},
                {"mark": {"type": "rule", "opacity": 0}, "encoding": {"y": {"field": "lo", "type": "quantitative", "axis": {"orient": "right", "values": [20,40,60], "labels": false, "title": null}}}}
              ],
              "resolve": {"axis": {"y": "independent"}}
            }
          ]
        }
      ]
    },
    {
      "spacing": 78,
      "vconcat": [
        {
          "spacing": 45,
          "vconcat": [
            {
              "title": {"text": "(b)", "anchor": "start", "frame": "bounds", "dx": -15, "offset": -43, "baseline": "alphabetic"},
              "vconcat": [
                {
                  "width": 826, "height": 405,
                  "title": {"text": "Mixed-layer depth", "offset": -45, "baseline": "alphabetic"},
                  "data": {"name": "b_box"},
                  "encoding": {"x": {"field": "bin", "type": "ordinal", "scale": {"type": "band", "domain": [3,4,5,6,7,8,9,10,11,12,13,14,15,16,17,18,19,20,21,22,23,24,25,26,27,28,29,30,31,32,33,34,35,36,56,57,58,59,60,61,62], "paddingInner": 0, "paddingOuter": 0}, "axis": {"values": [3,10,20,28,34,56,62], "title": null}}},
                  "layer": [
                    {"mark": {"type": "rule", "color": "#231f20", "strokeWidth": 2}, "encoding": {"y": {"field": "lo", "type": "quantitative", "scale": {"domain": [0, 45], "nice": false, "zero": false, "reverse": true}, "axis": {"values": [0,20,40], "title": "Meters", "titlePadding": 21}}, "y2": {"field": "hi"}}},
                    {"mark": {"type": "bar", "color": "#231f20", "width": {"band": 0.64}}, "encoding": {"y": {"field": "q1", "type": "quantitative", "axis": null}, "y2": {"field": "q3"}}},
                    {"mark": {"type": "point", "filled": true, "color": "#dcdcdc", "size": 80, "opacity": 1}, "encoding": {"y": {"field": "med", "type": "quantitative", "axis": null}}},
                    {"data": {"name": "b_out"}, "mark": {"type": "point", "shape": "circle", "filled": false, "color": "#231f20", "strokeWidth": 2, "size": 120, "opacity": 1}, "encoding": {"y": {"field": "v", "type": "quantitative", "axis": null}}},
                    {"mark": {"type": "rule", "opacity": 0}, "encoding": {"y": {"field": "lo", "type": "quantitative", "axis": {"orient": "right", "values": [0,20,40], "labels": false, "title": null}}}}
                  ],
                  "resolve": {"axis": {"y": "independent"}}
                }
              ]
            },
            {
              "title": {"text": "(d)", "anchor": "start", "frame": "bounds", "dx": 2, "offset": -60, "baseline": "alphabetic"},
              "vconcat": [
                {
                  "width": 826, "height": 405,
                  "title": {"text": "Integrated chl a", "offset": -24, "baseline": "alphabetic"},
                  "data": {"name": "d_box"},
                  "encoding": {"x": {"field": "bin", "type": "ordinal", "scale": {"type": "band", "domain": [3,4,5,6,7,8,9,10,11,12,13,14,15,16,17,18,19,20,21,22,23,24,25,26,27,28,29,30,31,32,33,34,35,36,56,57,58,59,60,61,62], "paddingInner": 0, "paddingOuter": 0}, "axis": {"values": [3,10,20,28,34,56,62], "title": "Bin number", "labelPadding": 8}}},
                  "layer": [
                    {"mark": {"type": "rule", "color": "#231f20", "strokeWidth": 2}, "encoding": {"y": {"field": "lo", "type": "quantitative", "scale": {"domain": [-18, 515], "nice": false, "zero": false}, "axis": {"values": [0,200,400], "title": "mg m⁻²", "titlePadding": 17}}, "y2": {"field": "hi"}}},
                    {"mark": {"type": "bar", "color": "#231f20", "width": {"band": 0.64}}, "encoding": {"y": {"field": "q1", "type": "quantitative", "axis": null}, "y2": {"field": "q3"}}},
                    {"mark": {"type": "point", "filled": true, "color": "#dcdcdc", "size": 80, "opacity": 1}, "encoding": {"y": {"field": "med", "type": "quantitative", "axis": null}}},
                    {"data": {"name": "d_out"}, "mark": {"type": "point", "shape": "circle", "filled": false, "color": "#231f20", "strokeWidth": 2, "size": 120, "opacity": 1}, "encoding": {"y": {"field": "v", "type": "quantitative", "axis": null}}},
                    {"mark": {"type": "rule", "opacity": 0}, "encoding": {"y": {"field": "lo", "type": "quantitative", "axis": {"orient": "right", "values": [0,200,400], "labels": false, "title": null}}}}
                  ],
                  "resolve": {"axis": {"y": "independent"}}
                }
              ]
            }
          ]
        },
        {
          "title": {"text": "(e)", "anchor": "start", "frame": "bounds", "dx": 21, "offset": -76, "baseline": "alphabetic"},
          "vconcat": [
            {
              "width": 826, "height": 405,
              "title": {"text": "Integrated PP", "offset": -37, "baseline": "alphabetic"},
              "data": {"name": "e_box"},
              "encoding": {"x": {"field": "bin", "type": "ordinal", "scale": {"type": "band", "domain": [3,4,5,6,7,8,9,10,11,12,13,14,15,16,17,18,19,20,21,22,23,24,25,26,27,28,29,30,31,32,33,34,35,36,56,57,58,59,60,61,62], "paddingInner": 0, "paddingOuter": 0}, "axis": {"values": [3,10,20,28,34,56,62], "title": "Bin number", "labelPadding": 8}}},
              "layer": [
                {"mark": {"type": "rule", "color": "#231f20", "strokeWidth": 2}, "encoding": {"y": {"field": "lo", "type": "quantitative", "scale": {"domain": [50, 3215], "nice": false, "zero": false}, "axis": {"values": [500,1000,1500,2000,2500,3000], "format": "d", "labelExpr": "datum.value % 1000 === 0 ? datum.label : ''", "title": "mg C m⁻² d⁻¹", "titlePadding": 5}}, "y2": {"field": "hi"}}},
                {"mark": {"type": "bar", "color": "#231f20", "width": {"band": 0.64}}, "encoding": {"y": {"field": "q1", "type": "quantitative", "axis": null}, "y2": {"field": "q3"}}},
                {"mark": {"type": "point", "filled": true, "color": "#dcdcdc", "shape": "M-1,0A1,0.6,0,1,1,1,0A1,0.6,0,1,1,-1,0Z", "size": 90, "opacity": 1}, "encoding": {"y": {"field": "med", "type": "quantitative", "axis": null}}},
                {"data": {"name": "e_out"}, "mark": {"type": "point", "shape": "M-1,0A1,0.55,0,1,1,1,0A1,0.55,0,1,1,-1,0Z", "filled": false, "color": "#231f20", "strokeWidth": 2, "size": 80, "opacity": 1}, "encoding": {"y": {"field": "v", "type": "quantitative", "axis": null}}},
                {"mark": {"type": "rule", "opacity": 0}, "encoding": {"y": {"field": "lo", "type": "quantitative", "axis": {"orient": "right", "values": [500,1000,1500,2000,2500,3000], "labels": false, "title": null}}}}
              ],
              "resolve": {"axis": {"y": "independent"}}
            }
          ]
        }
      ]
    }
  ],
  "spacing": 50
}
